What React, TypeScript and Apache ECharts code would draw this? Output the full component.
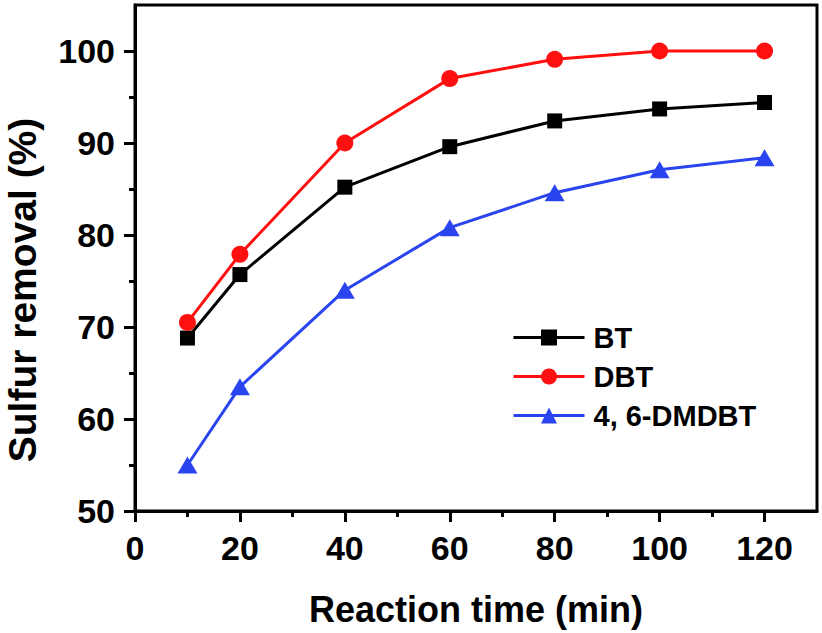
import React, { useEffect, useRef } from "react";
import * as echarts from "echarts";

const times = [10, 20, 40, 60, 80, 100, 120];
const btValues = [68.8, 75.7, 85.2, 89.6, 92.4, 93.7, 94.4];
const dbtValues = [70.5, 77.9, 90.0, 97.0, 99.1, 100.0, 100.0];
const dmdbtValues = [55.0, 63.5, 74.0, 80.8, 84.6, 87.1, 88.4];
const xMajorTicks = [0, 20, 40, 60, 80, 100, 120];
const xMinorTicks = [10, 30, 50, 70, 90, 110];
const yMajorTicks = [50, 60, 70, 80, 90, 100];
const yMinorTicks = [55, 65, 75, 85, 95];

const FONT = "'Liberation Sans', Arial, sans-serif";

export default function App() {
  const ref = useRef<HTMLDivElement>(null);
  useEffect(() => {
    document.body.style.margin = "0";
    const chart = echarts.init(ref.current!, null, { renderer: "svg" });
    const pair = (vals: number[]) => times.map((t, i) => [t, vals[i]]);
    const baseX = {
      type: "value",
      min: 0,
      max: 130,
      position: "bottom",
    };
    const baseY = {
      type: "value",
      min: 50,
      max: 105,
      position: "left",
    };
    chart.setOption({
      animation: false,
      backgroundColor: "#fff",
      grid: {
        left: 135,
        right: 5,
        top: 5,
        bottom: 122,
        show: true,
        borderColor: "#000",
        borderWidth: 3,
      },
      xAxis: [
        {
          ...baseX,
          axisLine: { show: true, lineStyle: { color: "#000", width: 3 } },
          axisTick: {
            show: true,
            customValues: xMajorTicks,
            length: 11,
            lineStyle: { color: "#000", width: 3 },
          },
          axisLabel: {
            customValues: xMajorTicks,
            margin: 20,
            color: "#000",
            fontSize: 34,
            fontWeight: "bold",
            fontFamily: FONT,
          },
          splitLine: { show: false },
          name: "Reaction time (min)",
          nameLocation: "middle",
          nameGap: 80,
          nameTextStyle: {
            color: "#000",
            fontSize: 36,
            fontWeight: "bold",
            fontFamily: FONT,
          },
        },
        {
          ...baseX,
          axisLine: { show: false },
          axisTick: {
            show: true,
            customValues: xMinorTicks,
            length: 6,
            lineStyle: { color: "#000", width: 3 },
          },
          axisLabel: { show: false },
          splitLine: { show: false },
        },
      ],
      yAxis: [
        {
          ...baseY,
          axisLine: { show: true, lineStyle: { color: "#000", width: 3 } },
          axisTick: {
            show: true,
            customValues: yMajorTicks,
            length: 11,
            lineStyle: { color: "#000", width: 3 },
          },
          axisLabel: {
            customValues: yMajorTicks,
            margin: 20,
            color: "#000",
            fontSize: 34,
            fontWeight: "bold",
            fontFamily: FONT,
          },
          splitLine: { show: false },
        },
        {
          ...baseY,
          axisLine: { show: false },
          axisTick: {
            show: true,
            customValues: yMinorTicks,
            length: 6,
            lineStyle: { color: "#000", width: 3 },
          },
          axisLabel: { show: false },
          splitLine: { show: false },
        },
      ],
      legend: {
        orient: "vertical",
        left: 507,
        top: 318,
        itemWidth: 71,
        itemHeight: 20,
        itemGap: 10,
        lineStyle: { width: 3 },
        textStyle: {
          color: "#000",
          fontSize: 29,
          fontWeight: "bold",
          fontFamily: FONT,
          padding: [0, 0, 0, 4],
        },
        data: ["BT", "DBT", "4, 6-DMDBT"],
      },
      graphic: [
        {
          type: "text",
          x: 22,
          y: 290,
          rotation: Math.PI / 2,
          style: {
            text: "Sulfur removal (%)",
            align: "center",
            verticalAlign: "middle",
            fill: "#000",
            fontSize: 39,
            fontWeight: "bold",
            fontFamily: FONT,
          },
        },
      ],
      series: [
        {
          name: "BT",
          type: "line",
          data: pair(btValues),
          symbol: "rect",
          symbolSize: 15,
          itemStyle: { color: "#000" },
          lineStyle: { color: "#000", width: 3 },
        },
        {
          name: "DBT",
          type: "line",
          data: pair(dbtValues),
          symbol: "circle",
          symbolSize: 17,
          itemStyle: { color: "#ff1010" },
          lineStyle: { color: "#ff1010", width: 3 },
        },
        {
          name: "4, 6-DMDBT",
          type: "line",
          data: pair(dmdbtValues),
          symbol: "triangle",
          symbolSize: [20, 17],
          itemStyle: { color: "#2a45f0" },
          lineStyle: { color: "#2a45f0", width: 3 },
        },
      ],
    });
    return () => chart.dispose();
  }, []);
  return (
    <div
      ref={ref}
      style={{ position: "absolute", left: 0, top: 0, width: 822, height: 633 }}
    />
  );
}
